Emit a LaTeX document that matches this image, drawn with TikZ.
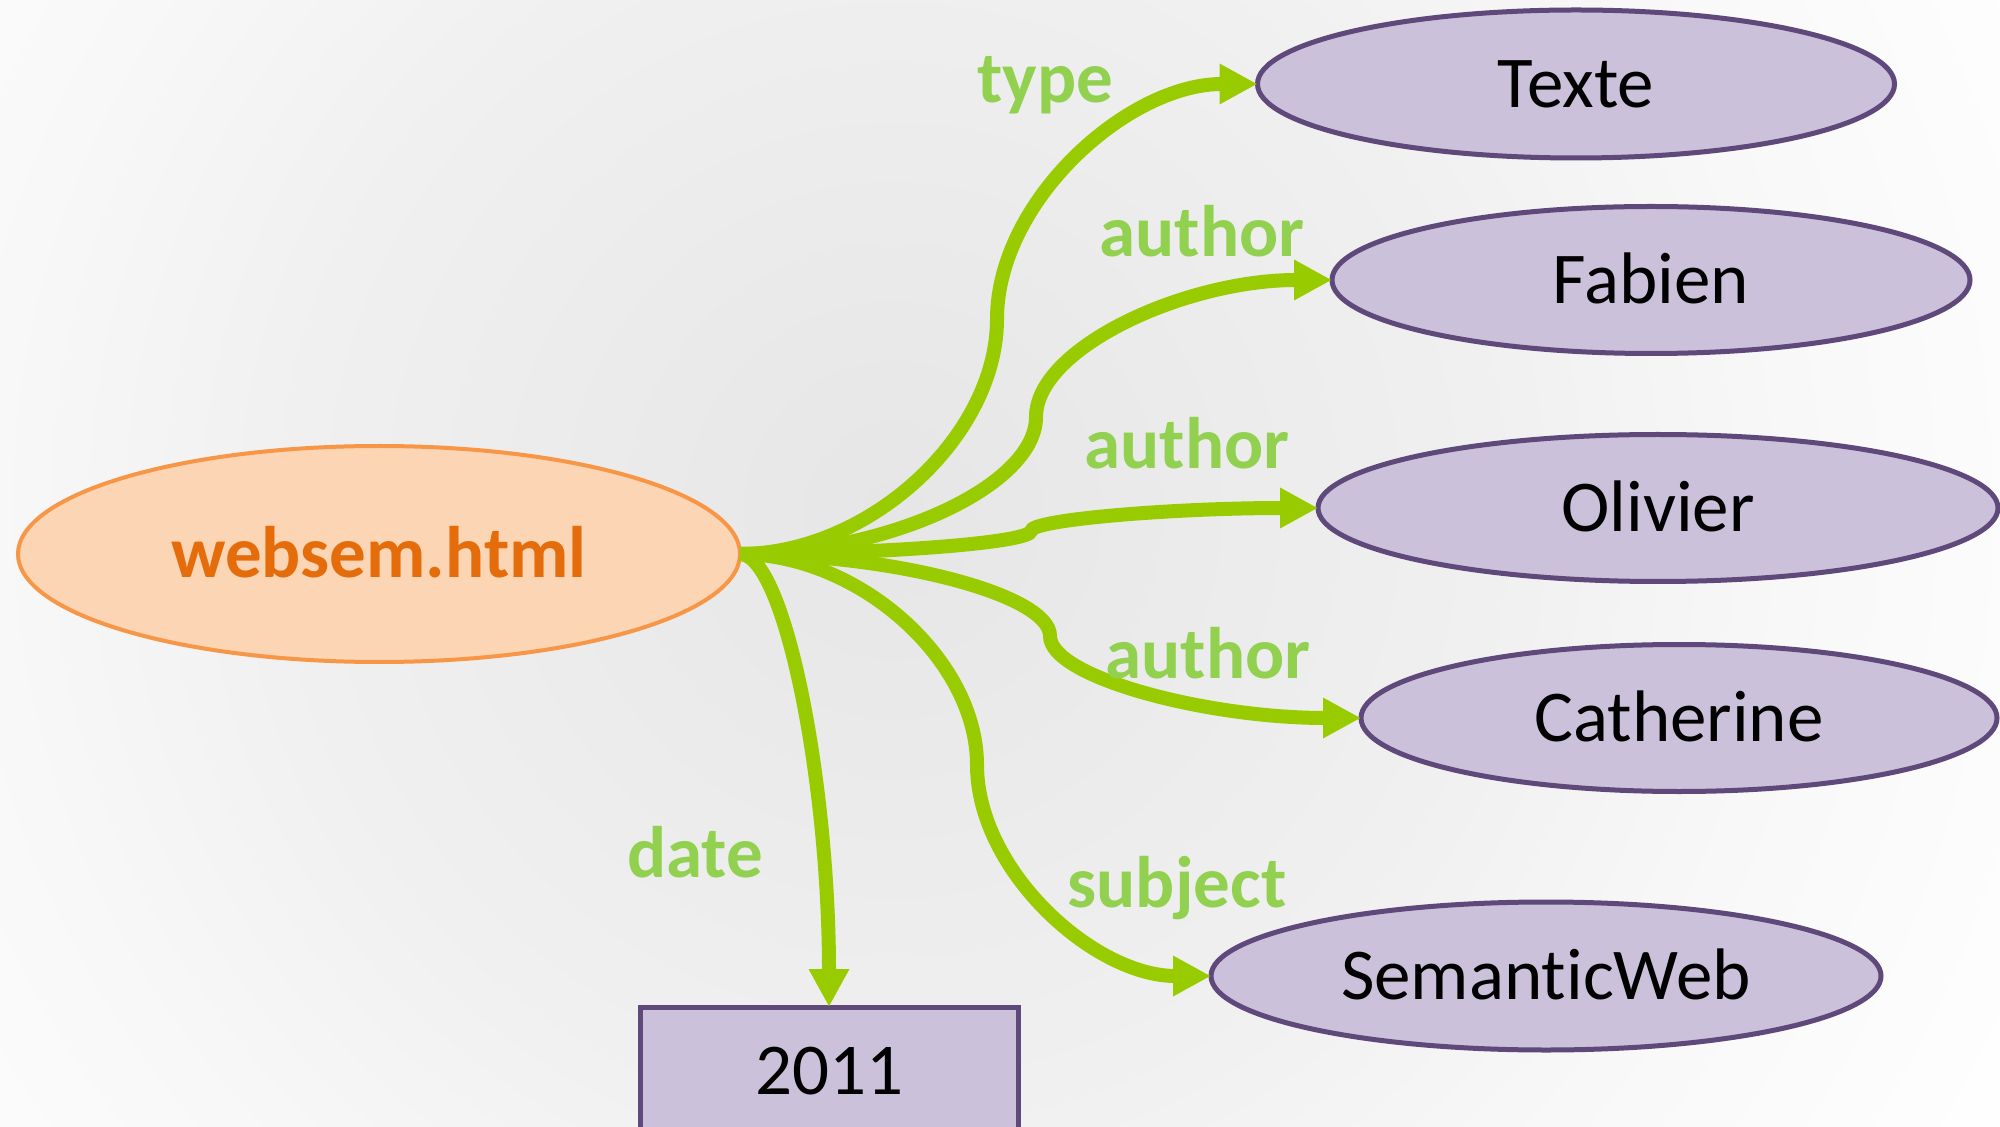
\documentclass[tikz,border=0pt]{standalone}
\usepackage{fontspec}
\setmainfont[Ligatures=NoCommon]{Carlito}
\usetikzlibrary{shapes.geometric,arrows.meta}
\definecolor{edgegreen}{HTML}{99CC00}
\definecolor{labelgreen}{HTML}{92D050}
\definecolor{resfill}{HTML}{CCC1DA}
\definecolor{resline}{HTML}{5F497A}
\definecolor{srcfill}{HTML}{FCD5B5}
\definecolor{srcline}{HTML}{F79646}
\definecolor{srctext}{HTML}{E46C0A}
\definecolor{bgcenter}{HTML}{E6E6E6}
\definecolor{bgmid}{HTML}{F0F0F0}
\definecolor{bgout}{HTML}{F8F8F8}
\pgfdeclareradialshading{bgshade}{\pgfpoint{0bp}{0bp}}{color(0bp)=(bgcenter); color(11.5bp)=(bgmid); color(17.3bp)=(bgout); color(25bp)=(white); color(50bp)=(white)}
\begin{document}
\begin{tikzpicture}[x=0.5pt,y=-0.5pt,
  every node/.style={font=\fontsize{36.5pt}{40pt}\selectfont, text height=23.5pt, text depth=0pt, inner sep=0pt, outer sep=0pt},
  src/.style={ellipse, draw=srcline, fill=srcfill, line width=2pt, minimum width=361pt, minimum height=108pt, text=srctext, font=\fontsize{36.5pt}{40pt}\selectfont\bfseries},
  res/.style={ellipse, draw=resline, fill=resfill, line width=2.5pt, minimum height=73.5pt},
  litbox/.style={rectangle, draw=resline, fill=resfill, line width=2.5pt, minimum width=189pt, minimum height=64pt},
  conn/.style={draw=edgegreen, line width=7pt, -{Triangle[length=19pt,width=19pt]}},
  lbl/.style={anchor=base, text=labelgreen, font=\fontsize{36.5pt}{40pt}\selectfont\bfseries}]
\path[use as bounding box] (0,0) rectangle (2000,1127);
\begin{scope}
  \clip (0,0) rectangle (2000,1127);
  \fill[white] (0,0) rectangle (2000,1127);
  \shade[shading=bgshade] (893,510) circle[radius=1300];
\end{scope}

\node[src] (web) at (379,554) {websem.html};
\node[res, minimum width=318.5pt, minimum height=74pt] (texte) at (1576,84) {Texte};
\node[res, minimum width=319pt] (fabien) at (1651,280) {Fabien};
\node[res, minimum width=340pt] (olivier) at (1658,508) {Olivier};
\node[res, minimum width=318pt] (catherine) at (1679,718) {Catherine};
\node[res, minimum width=335pt, minimum height=74pt] (semweb) at (1546,976) {SemanticWeb};
\node[litbox] (year) at (829,1071) {2011};

\coordinate (m1) at (997,319);
\coordinate (m2) at (1036,417);
\coordinate (m3) at (1031,531);
\coordinate (m4) at (1050,636);
\coordinate (m5) at (977,765);

\draw[conn] (web.east) .. controls +(128.5,0) and +(0,117.5) .. (m1) .. controls +(0,-117.5) and +(-130,0) .. (texte.west);
\draw[conn] (web.east) .. controls +(148,0) and +(0,68.5) .. (m2) .. controls +(0,-68.5) and +(-148,0) .. (fabien.west);
\draw[conn] (web.east) .. controls +(145.5,0) and +(0,11.5) .. (m3) .. controls +(0,-11.5) and +(-143.5,0) .. (olivier.west);
\draw[conn] (web.east) .. controls +(155,0) and +(0,-41) .. (m4) .. controls +(0,41) and +(-155.5,0) .. (catherine.west);
\draw[conn] (web.east) .. controls +(118.5,0) and +(0,-105.5) .. (m5) .. controls +(0,105.5) and +(-117,0) .. (semweb.west);
\draw[conn] (web.east) .. controls +(44.5,0) and +(0,-226.5) .. (year.north);

\node[lbl] (ltype) at (1045,103) {type};
\node[lbl] (la1) at (1202,257) {author};
\node[lbl] (la2) at (1187,469) {author};
\node[lbl] (la3) at (1208,678) {author};
\node[lbl] (lsubj) at (1177,907) {subject};
\node[lbl] (ldate) at (695,877) {date};
\end{tikzpicture}
\end{document}
